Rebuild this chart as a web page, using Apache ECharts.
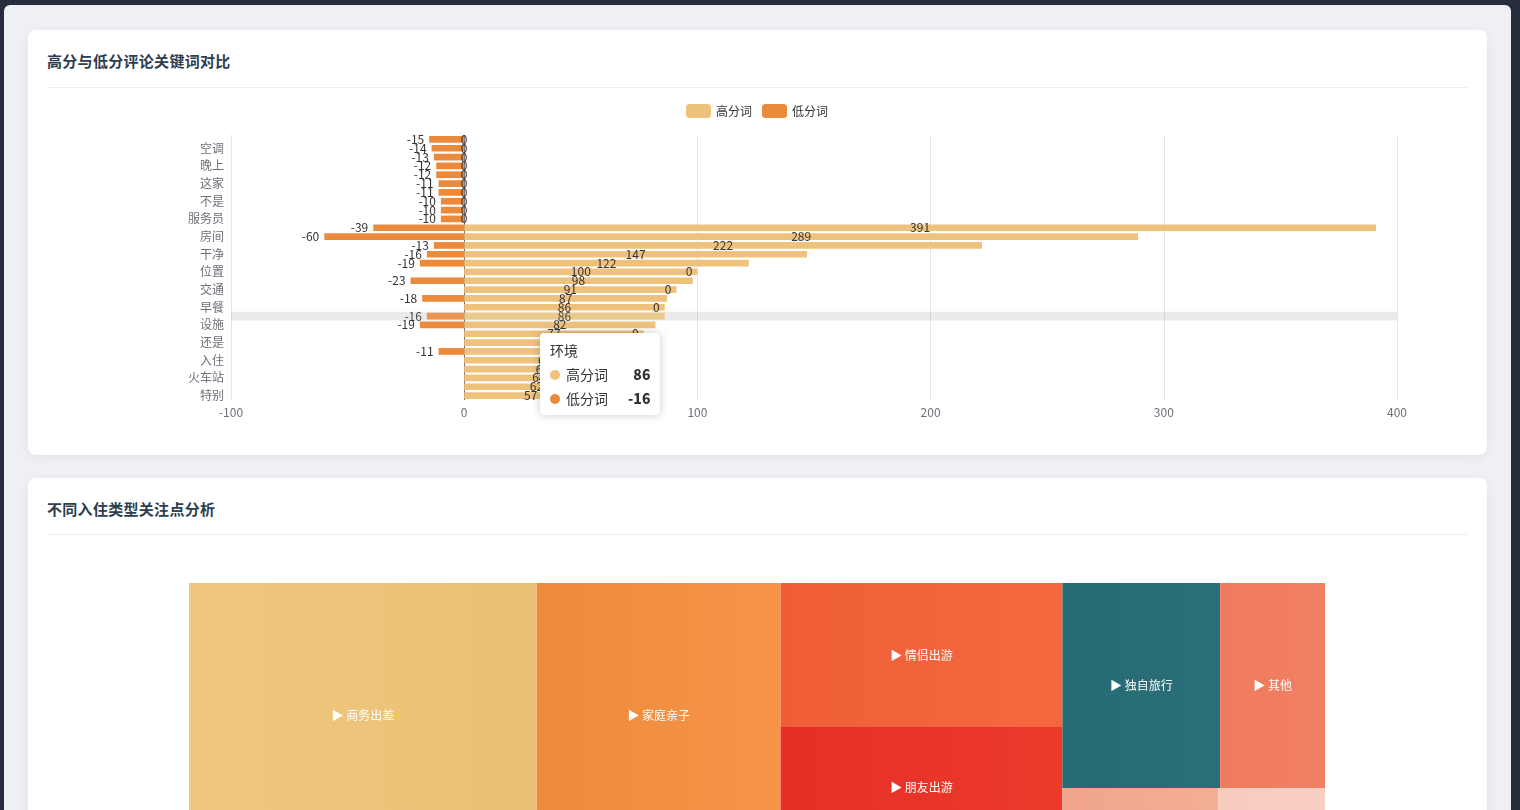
<!DOCTYPE html>
<html>
<head>
<meta charset="utf-8">
<script src="https://cdn.jsdelivr.net/npm/echarts@6.0.0/dist/echarts.min.js"></script>
<style>
html,body{margin:0;padding:0;width:1520px;height:810px;overflow:hidden;background:#282d3d;font-family:'Noto Sans CJK SC','Noto Sans',sans-serif;}
.panel{position:absolute;left:4px;top:5px;width:1507px;height:960px;background:#eef0f3;border-radius:6px 6px 0 0;}
.card{position:absolute;left:28px;width:1459px;background:#fff;border-radius:8px;box-shadow:0 2px 12px rgba(0,0,0,0.06);}
.title{position:absolute;left:19px;top:21px;font-size:15px;font-weight:bold;color:#2c3e50;line-height:20px;letter-spacing:0.3px;}
.divider{position:absolute;left:19px;right:20px;top:57px;height:1px;background:#ebeef5;}
.chart{position:absolute;left:19px;width:1420px;}
</style>
</head>
<body>
<div class="panel"></div>
<div class="card" style="top:30px;height:425px;">
  <div class="title">高分与低分评论关键词对比</div>
  <div class="divider"></div>
  <div id="bar" class="chart" style="top:65px;height:350px;"></div>
</div>
<div class="card" style="top:478px;height:470px;">
  <div class="title">不同入住类型关注点分析</div>
  <div class="divider" style="top:56px;"></div>
  <div id="tree" class="chart" style="top:67px;height:360px;"></div>
</div>
<script>
// ---- data (index 0 = bottom row) ----
const categories = ['特别','性价比','火车站','地铁','入住','感觉','还是','方便','设施','环境',
  '早餐','比较','交通','前台','位置','服务','干净','不错','房间','酒店',
  '服务员','问题','不是','卫生间','这家','没有','晚上','一般','空调','隔音'];
const highScores = [57,62,64,67,69,70,76,77,82,86, 86,87,91,98,100,122,147,222,289,391, 0,0,0,0,0,0,0,0,0,0];
const lowScores  = [0,0,0,0,0,-11,0,0,-19,-16, 0,-18,0,-23,0,-19,-16,-13,-60,-39, -10,-10,-10,-11,-11,-12,-12,-13,-14,-15];
const seriesNames = ['高分词','低分词'];
const xMin = -100, xMax = 400, xStep = 100;

const groupNames  = ['商务出差','家庭亲子','情侣出游','朋友出游','独自旅行','其他','团队出游','长辈同行'];
const groupValues = [995, 697, 438, 368, 349, 232, 101, 69];

// ---- styles ----
const barColors = ['#EEC27C','#EC8A3C'];
const treeGradients = [
  ['#F0C780','#EBBF75'],['#EE8A3B','#F79448'],['#EF5E37','#F5683F'],['#E52F26','#EC3A2B'],
  ['#266A74','#2B6F79'],['#F07A5D','#F18064'],['#F0A58B','#F3AE95'],['#F7CCBE','#F8D0C3']
];
const FONT = "'Noto Sans CJK SC','Noto Sans',sans-serif";

const bar = echarts.init(document.getElementById('bar'));
bar.setOption({
  animation:false,
  textStyle:{fontFamily:FONT},
  legend:{top:4, left:'center', icon:'roundRect', itemWidth:25, itemHeight:14, itemGap:10,
    textStyle:{color:'#333', fontSize:12, fontFamily:FONT}, data:seriesNames},
  tooltip:{trigger:'axis', axisPointer:{type:'shadow', shadowStyle:{color:'rgba(150,150,150,0.2)'}},
    alwaysShowContent:true, transitionDuration:0, position:[493,238],
    backgroundColor:'#fff', borderWidth:0, padding:10,
    textStyle:{color:'#333', fontSize:14, fontFamily:FONT},
    extraCssText:'box-shadow:0 0 10px rgba(0,0,0,0.2);border-radius:4px;'},
  grid:{left:184, right:70, top:40, bottom:45, containLabel:false, outerBoundsMode:'none'},
  xAxis:{type:'value', min:xMin, max:xMax, interval:xStep,
    axisLine:{show:false}, axisTick:{show:false},
    axisLabel:{color:'#6E7079', fontSize:12, margin:6, fontFamily:FONT},
    splitLine:{show:true, lineStyle:{width:1, color:['#E0E6F1','#6E7079','#E0E6F1','#E0E6F1','#E0E6F1','#E0E6F1']}}},
  yAxis:{type:'category', data:categories,
    axisLine:{show:false}, axisTick:{show:false}, splitLine:{show:false},
    axisLabel:{interval:1, color:'#6E7079', fontSize:12, margin:7, fontFamily:FONT}},
  series:[
    {name:seriesNames[0], type:'bar', stack:'total', data:highScores, barWidth:'76%',
      itemStyle:{color:barColors[0]},
      label:{show:true, position:'inside', color:'#333', fontSize:12, fontFamily:FONT, textBorderWidth:0}},
    {name:seriesNames[1], type:'bar', stack:'total', data:lowScores, barWidth:'76%',
      itemStyle:{color:barColors[1]},
      label:{show:true, position:'left', color:'#333', fontSize:12, fontFamily:FONT, textBorderWidth:0}}
  ]
});
function tip(){ bar.dispatchAction({type:'showTip', seriesIndex:0, dataIndex:9}); }
tip(); setTimeout(tip, 50); setTimeout(tip, 300);

const tree = echarts.init(document.getElementById('tree'));
tree.setOption({
  animation:false,
  series:[{
    type:'treemap', left:'10%', right:'10%', top:38, bottom:57,
    roam:false, nodeClick:false, breadcrumb:{show:false},
    label:{show:true, formatter:'▶ {b}', color:'#fff', fontSize:12, fontFamily:FONT},
    upperLabel:{show:false},
    itemStyle:{borderWidth:0, gapWidth:0, borderColor:'transparent'},
    levels:[{itemStyle:{borderWidth:0, gapWidth:0, borderColor:'transparent'}}],
    data: groupNames.map((n,i)=>({name:n, value:groupValues[i],
      itemStyle:{color:{type:'linear', x:0, y:0, x2:1, y2:0,
        colorStops:[{offset:0, color:treeGradients[i][0]},{offset:1, color:treeGradients[i][1]}]}}}))
  }]
});
</script>
</body>
</html>
